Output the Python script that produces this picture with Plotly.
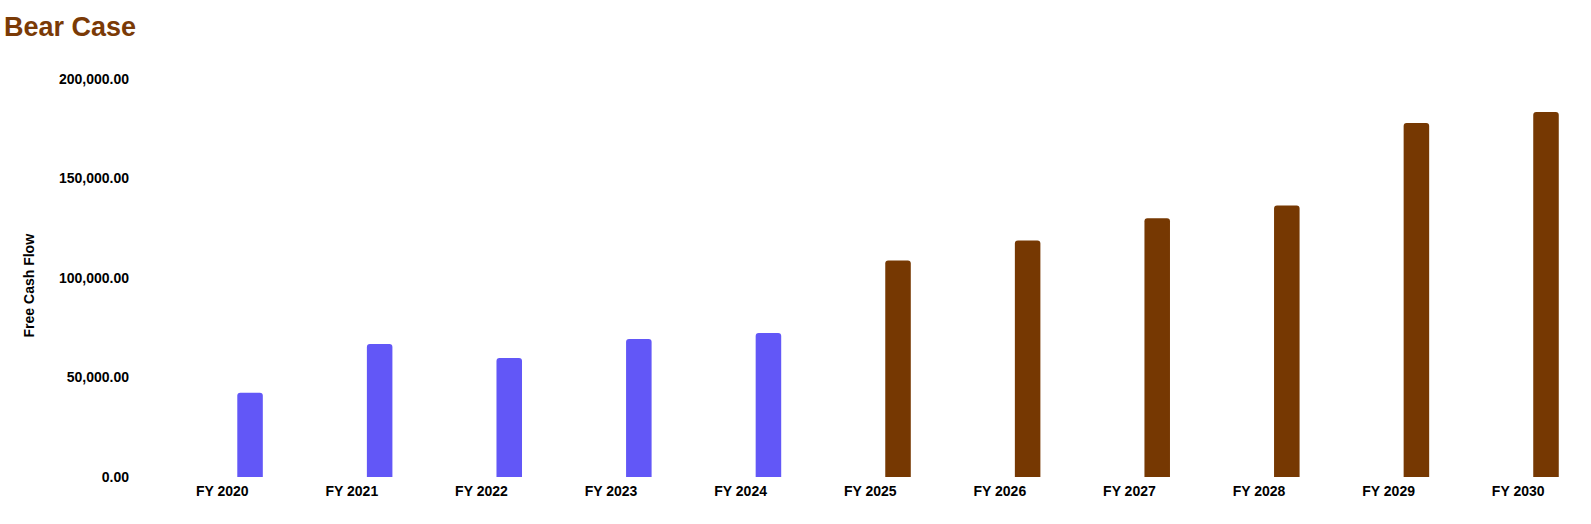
import plotly.graph_objects as go

years = ["FY 2020", "FY 2021", "FY 2022", "FY 2023", "FY 2024",
         "FY 2025", "FY 2026", "FY 2027", "FY 2028", "FY 2029", "FY 2030"]
historical = [42300, 66850, 59830, 69360, 72370, None, None, None, None, None, None]
projected = [None, None, None, None, None, 108800, 118850, 130080, 136400, 177900, 183440]

BLUE = "#6257F7"
BROWN = "#763802"
FONT = "Liberation Sans, Arial, Helvetica, sans-serif"

fig = go.Figure()
fig.add_trace(go.Bar(x=years, y=historical, name="Historical",
                     marker=dict(color=BLUE, line=dict(width=0)),
                     offset=0.116, width=0.197))
fig.add_trace(go.Bar(x=years, y=projected, name="Projected",
                     marker=dict(color=BROWN, line=dict(width=0)),
                     offset=0.116, width=0.197))

fig.update_layout(
    width=1591, height=524,
    margin=dict(l=134, r=8, t=79, b=46.5),
    paper_bgcolor="white", plot_bgcolor="white",
    barmode="overlay", barcornerradius=3,
    showlegend=False,
    font=dict(family=FONT, color="black"),
    title=dict(text="Bear Case", x=0.0025, xref="container", xanchor="left",
               y=1 - 27 / 524, yref="container", yanchor="middle",
               font=dict(family=FONT, size=27, color="#7A3A06", weight="bold")),
    xaxis=dict(type="category", range=[-0.681, 10.5], showgrid=False,
               showline=False, zeroline=False, ticks="", ticklabelstandoff=4,
               tickfont=dict(size=14, weight="bold", color="black")),
    yaxis=dict(range=[0, 200000], dtick=50000, tickformat=",.2f",
               showgrid=False, showline=False, zeroline=False, ticks="",
               ticklabelstandoff=4,
               tickfont=dict(size=14, weight="bold", color="black")),
    annotations=[dict(text="Free Cash Flow", textangle=-90,
                      xref="paper", yref="paper", x=0, y=(477.5 - 286) / 398.5,
                      xanchor="center", yanchor="middle", xshift=28.7 - 134,
                      showarrow=False,
                      font=dict(family=FONT, size=14, weight="bold", color="black"))],
)

fig.write_html("out.html", config={"displayModeBar": False},
               post_script="document.body.style.margin='0';")
